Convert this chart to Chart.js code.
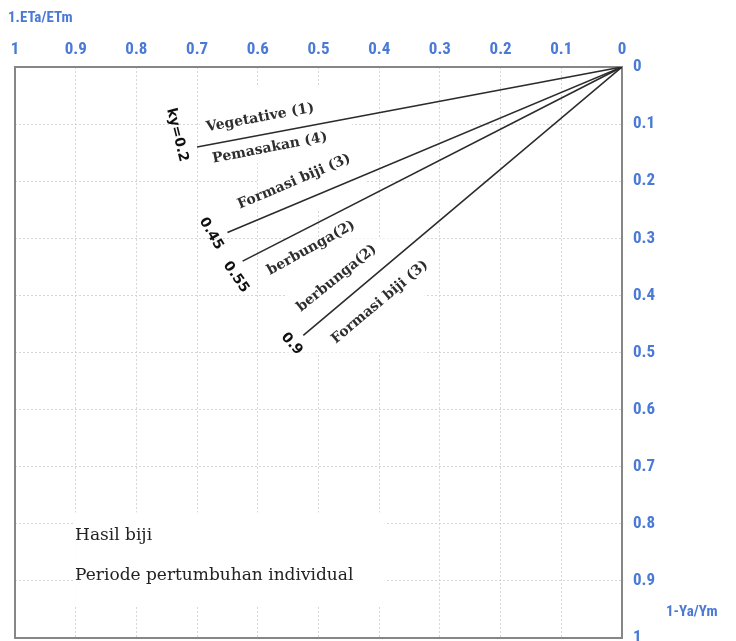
<!DOCTYPE html>
<html><head><meta charset="utf-8">
<script src="https://cdn.jsdelivr.net/npm/chart.js@4/dist/chart.umd.min.js"></script>
<style>html,body{margin:0;padding:0;background:#fff}#wrap{width:736px;height:641px;position:relative}</style>
</head><body><div id="wrap"><canvas id="c" width="736" height="641"></canvas></div>
<script>
// ---- data ----
const xTicks = [1, 0.9, 0.8, 0.7, 0.6, 0.5, 0.4, 0.3, 0.2, 0.1, 0];
const yTicks = [0, 0.1, 0.2, 0.3, 0.4, 0.5, 0.6, 0.7, 0.8, 0.9, 1];
const kyValues = ['ky=0.2', '0.45', '0.55', '0.9'];
const endDeficit = [0.70, 0.65, 0.625, 0.525];    // 1-ETa/ETm at end of each ky line
const endYieldLoss = [0.14, 0.29, 0.34, 0.47];    // 1-Ya/Ym at end of each ky line
const stageLabels = ['Vegetative (1)', 'Pemasakan (4)', 'Formasi biji (3)', 'berbunga(2)', 'berbunga(2)', 'Formasi biji (3)'];
const noteLines = ['Hasil biji', 'Periode pertumbuhan individual'];
const xTitle = '1.ETa/ETm';
const yTitle = '1-Ya/Ym';

// ---- layout (data coordinates) ----
const stagePos = [
  {x: 0.596, y: 0.089, a: -10.5},
  {x: 0.580, y: 0.142, a: -11},
  {x: 0.540, y: 0.201, a: -23},
  {x: 0.512, y: 0.317, a: -29},
  {x: 0.470, y: 0.370, a: -39},
  {x: 0.399, y: 0.412, a: -40}
];
const kyPos = [
  {x: 0.733, y: 0.119, a: 76},
  {x: 0.677, y: 0.292, a: 60},
  {x: 0.636, y: 0.368, a: 55},
  {x: 0.544, y: 0.485, a: 48}
];
const notePos = [{x: 0.901, y: 0.820}, {x: 0.901, y: 0.890}];
const masks = [
  {x1: 0.695, x2: 0.445, y1: 0.033, y2: 0.166},
  {x1: 0.600, x2: 0.420, y1: 0.166, y2: 0.250},
  {x1: 0.555, x2: 0.325, y1: 0.300, y2: 0.500},
  {x1: 0.901, x2: 0.390, y1: 0.780, y2: 0.945}
];

const BLUE = '#4a7ad6';
const AXFONT = "'Liberation Sans Narrow', 'Roboto Condensed', Roboto, sans-serif";

const fmt = v => (Math.round(v * 10) / 10).toString();

const datasets = kyValues.map((k, i) => ({
  label: k,
  data: [{x: 0, y: 0}, {x: endDeficit[i], y: endYieldLoss[i]}],
  showLine: true,
  borderColor: '#2b2b2b',
  borderWidth: 1.6,
  pointRadius: 0,
  fill: false
}));

const decor = {
  id: 'decor',
  beforeDatasetsDraw(chart) {
    const {ctx, chartArea: ca, scales: {x, y}} = chart;
    ctx.save();
    ctx.fillStyle = '#fff';
    masks.forEach(m => {
      const px1 = x.getPixelForValue(m.x1), px2 = x.getPixelForValue(m.x2);
      const py1 = y.getPixelForValue(m.y1), py2 = y.getPixelForValue(m.y2);
      ctx.fillRect(Math.min(px1, px2), Math.min(py1, py2), Math.abs(px2 - px1), Math.abs(py2 - py1));
    });
    ctx.strokeStyle = '#868686';
    ctx.lineWidth = 2;
    ctx.strokeRect(ca.left, ca.top, ca.right - ca.left, ca.bottom - ca.top);
    ctx.restore();
  },
  afterDatasetsDraw(chart) {
    const {ctx, scales: {x, y}} = chart;
    ctx.save();
    ctx.textAlign = 'center';
    ctx.textBaseline = 'middle';
    ctx.fillStyle = '#2e2e2e';
    ctx.font = "bold 14px 'DejaVu Serif', serif";
    stageLabels.forEach((t, i) => {
      const p = stagePos[i];
      ctx.save();
      ctx.translate(x.getPixelForValue(p.x), y.getPixelForValue(p.y));
      ctx.rotate(p.a * Math.PI / 180);
      ctx.fillText(t, 0, 0);
      ctx.restore();
    });
    ctx.fillStyle = '#111';
    ctx.font = "bold 14px 'DejaVu Sans', sans-serif";
    kyValues.forEach((t, i) => {
      const p = kyPos[i];
      ctx.save();
      ctx.translate(x.getPixelForValue(p.x), y.getPixelForValue(p.y));
      ctx.rotate(p.a * Math.PI / 180);
      ctx.fillText(t, 0, 0);
      ctx.restore();
    });
    ctx.textAlign = 'left';
    ctx.fillStyle = '#222';
    ctx.font = "17px 'DejaVu Serif', serif";
    noteLines.forEach((t, i) => {
      const p = notePos[i];
      ctx.fillText(t, x.getPixelForValue(p.x), y.getPixelForValue(p.y));
    });
    // axis titles
    ctx.fillStyle = BLUE;
    ctx.font = "bold 15px " + AXFONT;
    ctx.fillText(xTitle, 8, 18);
    ctx.fillText(yTitle, 666, 612);
    ctx.restore();
  }
};

new Chart(document.getElementById('c'), {
  type: 'scatter',
  data: {datasets},
  options: {
    responsive: false,
    animation: false,
    devicePixelRatio: 1,
    layout: {padding: {left: 15, right: 0, top: 0, bottom: 3}},
    plugins: {legend: {display: false}, tooltip: {enabled: false}},
    scales: {
      x: {
        type: 'linear', position: 'top', reverse: true, min: 0, max: 1,
        afterBuildTicks: s => { s.ticks = xTicks.map(v => ({value: v})); },
        ticks: {color: BLUE, font: {family: AXFONT, size: 17, weight: 'bold'}, padding: 7,
                maxRotation: 0, autoSkip: false, callback: v => fmt(v)},
        grid: {color: '#d6d6d6', lineWidth: 1, drawTicks: false},
        border: {display: false, dash: [2, 2]},
        afterFit: s => { s.height = 67; s.paddingLeft = 0; s.paddingRight = 0; }
      },
      y: {
        type: 'linear', position: 'right', reverse: true, min: 0, max: 1,
        afterBuildTicks: s => { s.ticks = yTicks.map(v => ({value: v})); },
        ticks: {color: BLUE, font: {family: AXFONT, size: 17, weight: 'bold'}, padding: 11,
                autoSkip: false, callback: v => fmt(v)},
        grid: {color: '#d6d6d6', lineWidth: 1, drawTicks: false},
        border: {display: false, dash: [2, 2]},
        afterFit: s => { s.width = 114; s.paddingTop = 0; s.paddingBottom = 0; }
      }
    }
  },
  plugins: [decor]
});
</script>
</body></html>
